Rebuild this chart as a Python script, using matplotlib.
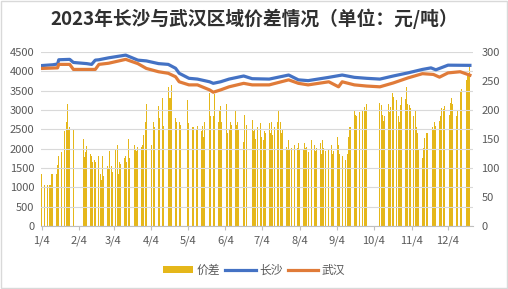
import numpy as np
import pandas as pd
import matplotlib
matplotlib.use("Agg")
import matplotlib.pyplot as plt
from matplotlib.patches import Rectangle

plt.rcParams['font.family'] = ['Noto Sans CJK SC', 'DejaVu Sans']

# 价差 (right axis), one value per weekday, None = no data / holiday
diff_jan = [90, 90, 70, 70, 70, 70, 90, 90, 90, 105, 120, 180, 128, 163, 180, 211, 168, 170, 168, None]
diff_feb = [None, None, None, None, 150, 119, 128, 138, 125, 120, 110, 113, 110, 120, 90, 80, 120, 87, 103, 100]
diff_mar = [130, 103, 93, 133, 140, 90, 110, 107, 117, 120, 110, 150, 117, 150, 140, 133, 130, 137,
            137, 140, 157, 180, 210]
diff_apr = [147, 140, None, 180, 170, 207, 187, 167, 220, 173, 220, 240, 220, 220, 243, 187, 180, 177, 180, 175]
diff_may = [None, None, None, 217, 177, 170, 170, 187, 167, 173, 163, 173, 153, 180, 167, 230, 190, 220, 190, 227,
            180, 200, 207]
diff_jun = [180, 173, 210, 160, 167, 180, 175, 200, 175, 180, 167, 160, 145, 191, 175, None, None,
            183, 163, 168, 150, 170]
diff_jul = [177, 154, 148, 163, 160, 177, 160, 180, 157, 170, 180, 200, 180, 160, 165, 137, 131, 148, 131, 134, 140]
diff_aug = [151, 135, 143, 131, 131, 143, 135, 137, 128, 148, 125, 140, 130, 135, 143, 125, 148, 135, 130,
            131, 154, 140, 125]
diff_sep = [130, 154, 140, 125, 229, 120, 114, 125, 154, 171, 171, 200, 191, 189, 209, 197, 200, 205, 200, 210, None]
diff_oct = [None, None, None, None, None, 212, 209, 192, 181, 189, 211, 197, 206, 229, 223,
            217, 189, 180, 209, 223, 219, 240]
diff_nov = [211, 209, 204, 189, 198, 171, 160, 131, 117, 134, 151, 160, 160, 166, 171, 165, 180, 172,
            181, 189, 204, 201]
diff_dec = [207, 211, 191, 212, 220, 211, 189, 200, 209, 232, 237, 246, 252, 258, 263, 278]

month_diffs = [diff_jan, diff_feb, diff_mar, diff_apr, diff_may, diff_jun,
               diff_jul, diff_aug, diff_sep, diff_oct, diff_nov, diff_dec]

# price lines (left axis)
cs_dates = ['2023-01-04', '2023-01-13', '2023-01-17', '2023-01-18', '2023-01-27', '2023-01-30', '2023-02-10',
            '2023-02-14', '2023-02-17', '2023-02-20', '2023-02-28', '2023-03-14', '2023-03-24', '2023-03-31',
            '2023-04-10', '2023-04-18', '2023-04-24', '2023-04-27', '2023-05-05', '2023-05-12', '2023-05-22',
            '2023-05-25', '2023-05-31', '2023-06-07', '2023-06-19', '2023-06-26', '2023-07-10', '2023-07-26',
            '2023-08-03', '2023-08-11', '2023-08-28', '2023-09-08', '2023-09-18', '2023-09-28', '2023-10-09',
            '2023-10-20', '2023-11-01', '2023-11-13', '2023-11-20', '2023-11-24', '2023-12-04', '2023-12-22']
changsha = [4150, 4170, 4190, 4300, 4310, 4230, 4200, 4180, 4290, 4300, 4350, 4420, 4290, 4270,
            4200, 4180, 4080, 3950, 3820, 3800, 3730, 3690, 3730, 3800, 3880, 3810, 3800, 3905,
            3780, 3760, 3845, 3905, 3845, 3820, 3800, 3880, 3960, 4050, 4090, 4040, 4160, 4155]

wh_dates = ['2023-01-04', '2023-01-17', '2023-01-18', '2023-01-27', '2023-01-30', '2023-02-17', '2023-02-20',
            '2023-02-28', '2023-03-14', '2023-03-24', '2023-03-31', '2023-04-10', '2023-04-18', '2023-04-24',
            '2023-04-27', '2023-05-05', '2023-05-12', '2023-05-22', '2023-05-25', '2023-05-31', '2023-06-07',
            '2023-06-19', '2023-06-26', '2023-07-10', '2023-07-26', '2023-08-03', '2023-08-11', '2023-08-28',
            '2023-09-05', '2023-09-08', '2023-09-18', '2023-09-28', '2023-10-09', '2023-10-20', '2023-11-01',
            '2023-11-13', '2023-11-22', '2023-11-27', '2023-12-04', '2023-12-14', '2023-12-22']
wuhan = [4075, 4090, 4180, 4180, 4050, 4050, 4180, 4210, 4310, 4200, 4075, 3990, 3950, 3860,
         3730, 3650, 3650, 3520, 3460, 3520, 3600, 3690, 3650, 3650, 3780, 3690, 3650, 3730,
         3600, 3730, 3650, 3620, 3600, 3700, 3830, 3940, 3920, 3850, 3960, 3990, 3900]

# trading-day dates for the bars
bar_dates, bar_vals = [], []
for m, vals in enumerate(month_diffs, start=1):
    start = '2023-01-04' if m == 1 else f'2023-{m:02d}-01'
    end = '2023-12-22' if m == 12 else (pd.Timestamp(f'2023-{m:02d}-01') + pd.offsets.MonthEnd(0))
    days = pd.bdate_range(start, end)
    for d, v in zip(days, vals):
        if v is not None:
            bar_dates.append(d)
            bar_vals.append(v)

gold = '#E5B71A'
blue = '#4472C4'
orange = '#E07B39'
tick_col = '#595959'
grid_col = '#D9D9D9'

fig = plt.figure(figsize=(5.08, 2.89), dpi=100)
ax = fig.add_axes([0.081, 0.218, 0.850, 0.602])
ax2 = ax.twinx()

ax2.bar(bar_dates, bar_vals, width=0.75, color=gold, label='价差', zorder=2)
ax.plot(pd.to_datetime(cs_dates), changsha, color=blue, lw=2.3, label='长沙', zorder=3)
ax.plot(pd.to_datetime(wh_dates), wuhan, color=orange, lw=2.3, label='武汉', zorder=3)

ax.set_zorder(ax2.get_zorder() + 1)
ax.patch.set_visible(False)

ax.set_ylim(0, 4500)
ax.set_yticks(np.arange(0, 4501, 500))
ax2.set_ylim(0, 300)
ax2.set_yticks(np.arange(0, 301, 50))
ax.set_xlim(pd.Timestamp('2023-01-03 12:00'), pd.Timestamp('2023-12-24 12:00'))

ticks = [pd.Timestamp(f'2023-{m:02d}-04') for m in range(1, 13)]
ax.set_xticks(ticks)
ax.set_xticklabels([f'{m}/4' for m in range(1, 13)])

ax2.yaxis.grid(False)
ax.yaxis.grid(True, color=grid_col, lw=0.8)
ax.set_axisbelow(True)
for a in (ax, ax2):
    for s in a.spines.values():
        s.set_visible(False)
    a.tick_params(axis='both', labelsize=8, colors=tick_col, length=0)
ax.spines['bottom'].set_visible(True)
ax.spines['bottom'].set_color('#BFBFBF')
ax.tick_params(axis='x', length=3, color='#BFBFBF', pad=4)
ax.tick_params(axis='y', pad=5)
ax2.tick_params(axis='y', pad=6)

fig.text(0.5, 0.935, '2023年长沙与武汉区域价差情况（单位：元/吨）', ha='center', va='center',
         fontsize=13.5, fontweight='bold', color='#303030')

h1, l1 = ax2.get_legend_handles_labels()
h2, l2 = ax.get_legend_handles_labels()
fig.legend(h1 + h2, l1 + l2, loc='center', bbox_to_anchor=(0.5, 0.065), ncol=3, frameon=False,
           fontsize=8.5, handlelength=2.6, handleheight=0.6, columnspacing=0.4, handletextpad=0.3,
           labelcolor=tick_col)

fig.patches.append(Rectangle((0.002, 0.004), 0.996, 0.992, transform=fig.transFigure,
                             fill=False, edgecolor='#D9D9D9', lw=1))

fig.savefig('out.png', dpi=100)
